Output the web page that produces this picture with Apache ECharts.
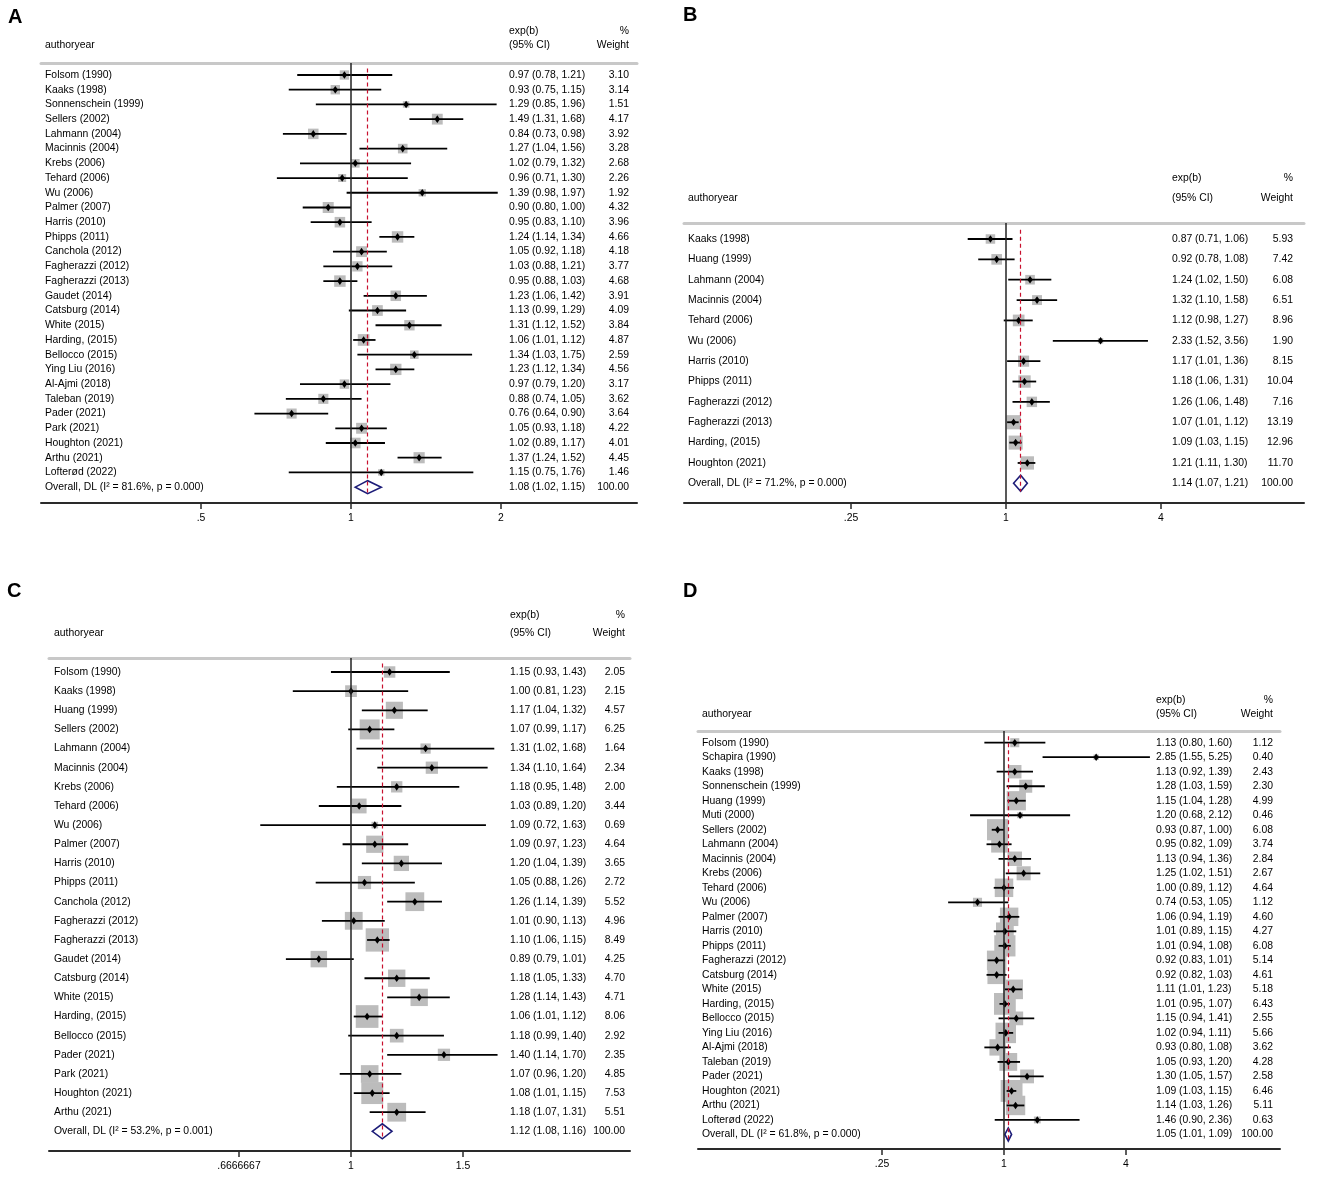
<!DOCTYPE html>
<html>
<head>
<meta charset="utf-8">
<script src="https://cdn.jsdelivr.net/npm/echarts@6/dist/echarts.min.js"></script>
<style>
  html, body { margin: 0; background: #fff; }
  #chart { width: 1325px; height: 1183px; }
</style>
</head>
<body>
<div id="chart"></div>
<script>
'use strict';

// ---- panel A ----
const studiesA = ['Folsom (1990)', 'Kaaks (1998)', 'Sonnenschein (1999)', 'Sellers (2002)', 'Lahmann (2004)', 'Macinnis (2004)',
  'Krebs (2006)', 'Tehard (2006)', 'Wu (2006)', 'Palmer (2007)', 'Harris (2010)', 'Phipps (2011)', 'Canchola (2012)',
  'Fagherazzi (2012)', 'Fagherazzi (2013)', 'Gaudet (2014)', 'Catsburg (2014)', 'White (2015)', 'Harding, (2015)',
  'Bellocco (2015)', 'Ying Liu (2016)', 'Al-Ajmi (2018)', 'Taleban (2019)', 'Pader (2021)', 'Park (2021)',
  'Houghton (2021)', 'Arthu (2021)', 'Lofterød (2022)'];
const orA = [0.97, 0.93, 1.29, 1.49, 0.84, 1.27, 1.02, 0.96, 1.39, 0.90, 0.95, 1.24, 1.05, 1.03, 0.95, 1.23, 1.13, 1.31, 1.06, 1.34, 1.23, 0.97, 0.88, 0.76, 1.05, 1.02, 1.37, 1.15];
const lowA = [0.78, 0.75, 0.85, 1.31, 0.73, 1.04, 0.79, 0.71, 0.98, 0.80, 0.83, 1.14, 0.92, 0.88, 0.88, 1.06, 0.99, 1.12, 1.01, 1.03, 1.12, 0.79, 0.74, 0.64, 0.93, 0.89, 1.24, 0.75];
const highA = [1.21, 1.15, 1.96, 1.68, 0.98, 1.56, 1.32, 1.30, 1.97, 1.00, 1.10, 1.34, 1.18, 1.21, 1.03, 1.42, 1.29, 1.52, 1.12, 1.75, 1.34, 1.20, 1.05, 0.90, 1.18, 1.17, 1.52, 1.76];
const weightA = [3.10, 3.14, 1.51, 4.17, 3.92, 3.28, 2.68, 2.26, 1.92, 4.32, 3.96, 4.66, 4.18, 3.77, 4.68, 3.91, 4.09, 3.84, 4.87, 2.59, 4.56, 3.17, 3.62, 3.64, 4.22, 4.01, 4.45, 1.46];
const overallA = [1.08, 1.02, 1.15];
const hetA = 'Overall, DL (I² = 81.6%, p = 0.000)';
const ticksA = [0.5, 1, 2];
const tickLabelsA = ['.5', '1', '2'];

// ---- panel B ----
const studiesB = ['Kaaks (1998)', 'Huang (1999)', 'Lahmann (2004)', 'Macinnis (2004)', 'Tehard (2006)', 'Wu (2006)',
  'Harris (2010)', 'Phipps (2011)', 'Fagherazzi (2012)', 'Fagherazzi (2013)', 'Harding, (2015)', 'Houghton (2021)'];
const orB = [0.87, 0.92, 1.24, 1.32, 1.12, 2.33, 1.17, 1.18, 1.26, 1.07, 1.09, 1.21];
const lowB = [0.71, 0.78, 1.02, 1.10, 0.98, 1.52, 1.01, 1.06, 1.06, 1.01, 1.03, 1.11];
const highB = [1.06, 1.08, 1.50, 1.58, 1.27, 3.56, 1.36, 1.31, 1.48, 1.12, 1.15, 1.30];
const weightB = [5.93, 7.42, 6.08, 6.51, 8.96, 1.90, 8.15, 10.04, 7.16, 13.19, 12.96, 11.70];
const overallB = [1.14, 1.07, 1.21];
const hetB = 'Overall, DL (I² = 71.2%, p = 0.000)';
const ticksB = [0.25, 1, 4];
const tickLabelsB = ['.25', '1', '4'];

// ---- panel C ----
const studiesC = ['Folsom (1990)', 'Kaaks (1998)', 'Huang (1999)', 'Sellers (2002)', 'Lahmann (2004)', 'Macinnis (2004)',
  'Krebs (2006)', 'Tehard (2006)', 'Wu (2006)', 'Palmer (2007)', 'Harris (2010)', 'Phipps (2011)', 'Canchola (2012)',
  'Fagherazzi (2012)', 'Fagherazzi (2013)', 'Gaudet (2014)', 'Catsburg (2014)', 'White (2015)', 'Harding, (2015)',
  'Bellocco (2015)', 'Pader (2021)', 'Park (2021)', 'Houghton (2021)', 'Arthu (2021)'];
const orC = [1.15, 1.00, 1.17, 1.07, 1.31, 1.34, 1.18, 1.03, 1.09, 1.09, 1.20, 1.05, 1.26, 1.01, 1.10, 0.89, 1.18, 1.28, 1.06, 1.18, 1.40, 1.07, 1.08, 1.18];
const lowC = [0.93, 0.81, 1.04, 0.99, 1.02, 1.10, 0.95, 0.89, 0.72, 0.97, 1.04, 0.88, 1.14, 0.90, 1.06, 0.79, 1.05, 1.14, 1.01, 0.99, 1.14, 0.96, 1.01, 1.07];
const highC = [1.43, 1.23, 1.32, 1.17, 1.68, 1.64, 1.48, 1.20, 1.63, 1.23, 1.39, 1.26, 1.39, 1.13, 1.15, 1.01, 1.33, 1.43, 1.12, 1.40, 1.70, 1.20, 1.15, 1.31];
const weightC = [2.05, 2.15, 4.57, 6.25, 1.64, 2.34, 2.00, 3.44, 0.69, 4.64, 3.65, 2.72, 5.52, 4.96, 8.49, 4.25, 4.70, 4.71, 8.06, 2.92, 2.35, 4.85, 7.53, 5.51];
const overallC = [1.12, 1.08, 1.16];
const hetC = 'Overall, DL (I² = 53.2%, p = 0.001)';
const ticksC = [2 / 3, 1, 1.5];
const tickLabelsC = ['.6666667', '1', '1.5'];

// ---- panel D ----
const studiesD = ['Folsom (1990)', 'Schapira (1990)', 'Kaaks (1998)', 'Sonnenschein (1999)', 'Huang (1999)', 'Muti (2000)',
  'Sellers (2002)', 'Lahmann (2004)', 'Macinnis (2004)', 'Krebs (2006)', 'Tehard (2006)', 'Wu (2006)', 'Palmer (2007)',
  'Harris (2010)', 'Phipps (2011)', 'Fagherazzi (2012)', 'Catsburg (2014)', 'White (2015)', 'Harding, (2015)',
  'Bellocco (2015)', 'Ying Liu (2016)', 'Al-Ajmi (2018)', 'Taleban (2019)', 'Pader (2021)', 'Houghton (2021)',
  'Arthu (2021)', 'Lofterød (2022)'];
const orD = [1.13, 2.85, 1.13, 1.28, 1.15, 1.20, 0.93, 0.95, 1.13, 1.25, 1.00, 0.74, 1.06, 1.01, 1.01, 0.92, 0.92, 1.11, 1.01, 1.15, 1.02, 0.93, 1.05, 1.30, 1.09, 1.14, 1.46];
const lowD = [0.80, 1.55, 0.92, 1.03, 1.04, 0.68, 0.87, 0.82, 0.94, 1.02, 0.89, 0.53, 0.94, 0.89, 0.94, 0.83, 0.82, 1.01, 0.95, 0.94, 0.94, 0.80, 0.93, 1.05, 1.03, 1.03, 0.90];
const highD = [1.60, 5.25, 1.39, 1.59, 1.28, 2.12, 1.00, 1.09, 1.36, 1.51, 1.12, 1.05, 1.19, 1.15, 1.08, 1.01, 1.03, 1.23, 1.07, 1.41, 1.11, 1.08, 1.20, 1.57, 1.15, 1.26, 2.36];
const weightD = [1.12, 0.40, 2.43, 2.30, 4.99, 0.46, 6.08, 3.74, 2.84, 2.67, 4.64, 1.12, 4.60, 4.27, 6.08, 5.14, 4.61, 5.18, 6.43, 2.55, 5.66, 3.62, 4.28, 2.58, 6.46, 5.11, 0.63];
const overallD = [1.05, 1.01, 1.09];
const hetD = 'Overall, DL (I² = 61.8%, p = 0.000)';
const ticksD = [0.25, 1, 4];
const tickLabelsD = ['.25', '1', '4'];

const FONT = '"Liberation Sans", Arial, Helvetica, sans-serif';
const FS = 10.4;

// layout of each panel (pixels)
const panels = [
  { key: 'A', studies: studiesA, or: orA, lo: lowA, hi: highA, wt: weightA, overall: overallA, het: hetA, ticks: ticksA, tickLabels: tickLabelsA,
    left: 41, right: 637, top: 63, bottom: 503, x1: 351, ppl: 216.4, y0: 75, dy: 14.72,
    nameX: 45, estX: 509, wtX: 629, hd1: 31, hd2: 45, box: 5.3, dia: 6.5, letterX: 8, letterY: 17 },
  { key: 'B', studies: studiesB, or: orB, lo: lowB, hi: highB, wt: weightB, overall: overallB, het: hetB, ticks: ticksB, tickLabels: tickLabelsB,
    left: 684, right: 1304, top: 223, bottom: 503, x1: 1006, ppl: 111.8, y0: 239, dy: 20.36,
    nameX: 688, estX: 1172, wtX: 1293, hd1: 178, hd2: 198, box: 3.9, dia: 8, letterX: 683, letterY: 15 },
  { key: 'C', studies: studiesC, or: orC, lo: lowC, hi: highC, wt: weightC, overall: overallC, het: hetC, ticks: ticksC, tickLabels: tickLabelsC,
    left: 49, right: 630, top: 658, bottom: 1151, x1: 351, ppl: 276.2, y0: 672, dy: 19.14,
    nameX: 54, estX: 510, wtX: 625, hd1: 615, hd2: 633, box: 8.0, dia: 7.5, letterX: 7, letterY: 591 },
  { key: 'D', studies: studiesD, or: orD, lo: lowD, hi: highD, wt: weightD, overall: overallD, het: hetD, ticks: ticksD, tickLabels: tickLabelsD,
    left: 698, right: 1280, top: 731, bottom: 1149, x1: 1004, ppl: 88.0, y0: 742.7, dy: 14.51,
    nameX: 702, estX: 1156, wtX: 1273, hd1: 700, hd2: 714, box: 8.6, dia: 6.5, letterX: 683, letterY: 591 }
];

const chart = echarts.init(document.getElementById('chart'), null, { renderer: 'canvas' });

const grid = [], xAxis = [], yAxis = [], series = [], graphic = [];

panels.forEach((p, k) => {
  const n = p.studies.length;
  const xmin = (p.left - p.x1) / p.ppl;
  const xmax = (p.right - p.x1) / p.ppl;
  const tickVals = p.ticks.map(Math.log);

  grid.push({ left: p.left, top: p.top, width: p.right - p.left, height: p.bottom - p.top, containLabel: false });

  // bottom axis (log scale drawn as ln values)
  xAxis.push({
    gridIndex: k, type: 'value', position: 'bottom', min: xmin, max: xmax,
    axisLine: { show: true, onZero: false, lineStyle: { color: '#2a2a2a', width: 2 } },
    axisTick: { show: true, customValues: tickVals, length: 6, lineStyle: { color: '#2a2a2a', width: 1.5 } },
    axisLabel: {
      customValues: tickVals, color: '#000', fontSize: FS, fontFamily: FONT, margin: 10,
      formatter: v => {
        const j = tickVals.findIndex(t => Math.abs(t - v) < 1e-6);
        return j >= 0 ? p.tickLabels[j] : '';
      }
    },
    splitLine: { show: false }
  });
  // header rule
  xAxis.push({
    gridIndex: k, type: 'value', position: 'top', min: xmin, max: xmax,
    axisLine: { show: true, onZero: false, lineStyle: { color: '#c8c8c8', width: 3 } },
    axisTick: { show: false }, axisLabel: { show: false }, splitLine: { show: false }
  });
  yAxis.push({
    gridIndex: k, type: 'value', inverse: true,
    min: (p.top - p.y0) / p.dy, max: (p.bottom - p.y0) / p.dy, show: false
  });

  const rows = p.studies.map((s, i) => [i, Math.log(p.or[i]), Math.log(p.lo[i]), Math.log(p.hi[i]), p.wt[i]]);
  rows.push([n, Math.log(p.overall[0]), Math.log(p.overall[1]), Math.log(p.overall[2]), 100]);

  const lnOverall = Math.log(p.overall[0]);

  series.push({
    type: 'custom',
    xAxisIndex: k * 2,
    yAxisIndex: k,
    data: rows,
    encode: { x: [1, 2, 3], y: 0 },
    clip: false,
    silent: true,
    renderItem: (params, api) => {
      const idx = params.dataIndex;
      const i = api.value(0);
      const y = api.coord([0, i])[1];
      const xc = api.coord([api.value(1), i])[0];
      const xl = api.coord([api.value(2), i])[0];
      const xh = api.coord([api.value(3), i])[0];
      const w = api.value(4);
      const isOverall = idx === n;
      const name = isOverall ? p.het : p.studies[idx];
      const est = isOverall ? p.overall : [p.or[idx], p.lo[idx], p.hi[idx]];
      const estText = est[0].toFixed(2) + ' (' + est[1].toFixed(2) + ', ' + est[2].toFixed(2) + ')';
      const txt = (t, x, align) => ({
        type: 'text',
        style: { text: t, x: x, y: y, textAlign: align, textVerticalAlign: 'middle', fontSize: FS, fontFamily: FONT, fill: '#000' }
      });
      const children = [txt(name, p.nameX, 'left'), txt(estText, p.estX, 'left'), txt(w.toFixed(2), p.wtX, 'right')];
      if (isOverall) {
        children.push({
          type: 'polygon',
          shape: { points: [[xl, y], [xc, y - p.dia], [xh, y], [xc, y + p.dia]] },
          style: { fill: 'rgba(0,0,0,0)', stroke: '#1c1c78', lineWidth: 1.6 }
        });
      } else {
        const s = p.box * Math.sqrt(w);
        children.push({ type: 'rect', shape: { x: xc - s / 2, y: y - s / 2, width: s, height: s }, style: { fill: '#bcbcbc' } });
        children.push({ type: 'line', shape: { x1: xl, y1: y, x2: xh, y2: y }, style: { stroke: '#000', lineWidth: 1.8 } });
        children.push({
          type: 'polygon',
          shape: { points: [[xc - 2.7, y], [xc, y - 3.8], [xc + 2.7, y], [xc, y + 3.8]] },
          style: { fill: '#000' }
        });
      }
      return { type: 'group', children: children };
    },
    markLine: {
      silent: true,
      symbol: ['none', 'none'],
      label: { show: false },
      emphasis: { disabled: true },
      animation: false,
      data: [
        { xAxis: 0, lineStyle: { color: '#222', width: 1.5, type: 'solid' } },
        [
          { coord: [lnOverall, -0.45], lineStyle: { color: '#c8102e', width: 1.2, type: [4, 3] } },
          { coord: [lnOverall, n + 0.4], lineStyle: { color: '#c8102e', width: 1.2, type: [4, 3] } }
        ]
      ]
    }
  });

  // panel letter + column headers
  const head = (t, x, y, align) => ({
    type: 'text', x: x, y: y, silent: true,
    style: { text: t, textAlign: align, textVerticalAlign: 'middle', fontSize: FS, fontFamily: FONT, fill: '#000' }
  });
  graphic.push({
    type: 'text', x: p.letterX, y: p.letterY, silent: true,
    style: { text: p.key, textAlign: 'left', textVerticalAlign: 'middle', fontSize: 20, fontWeight: 'bold', fontFamily: FONT, fill: '#000' }
  });
  graphic.push(head('authoryear', p.nameX, p.hd2, 'left'));
  graphic.push(head('exp(b)', p.estX, p.hd1, 'left'));
  graphic.push(head('(95% CI)', p.estX, p.hd2, 'left'));
  graphic.push(head('%', p.wtX, p.hd1, 'right'));
  graphic.push(head('Weight', p.wtX, p.hd2, 'right'));
});

chart.setOption({
  backgroundColor: '#fff',
  animation: false,
  grid: grid,
  xAxis: xAxis,
  yAxis: yAxis,
  series: series,
  graphic: graphic
});
</script>
</body>
</html>
